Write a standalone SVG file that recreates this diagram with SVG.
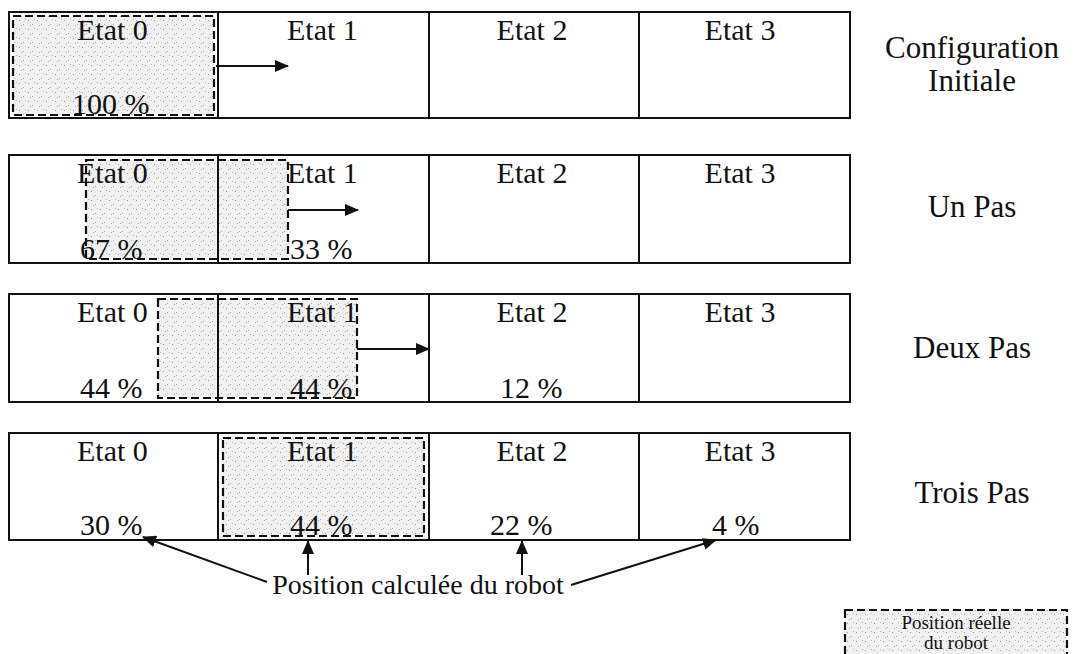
<svg xmlns="http://www.w3.org/2000/svg" width="1077" height="654" viewBox="0 0 1077 654">
<style>
.t{font-family:"Liberation Serif","Times New Roman",serif;font-size:30px;fill:#111}
.m{text-anchor:middle}
.lbl{font-family:"Liberation Serif","Times New Roman",serif;font-size:31px;fill:#111;text-anchor:middle}
.sm{font-family:"Liberation Serif","Times New Roman",serif;font-size:28px;fill:#111;text-anchor:middle}
.lg{font-family:"Liberation Serif","Times New Roman",serif;font-size:19px;fill:#111;text-anchor:middle}
.box{fill:none;stroke:#111;stroke-width:2}
.cell{stroke:#111;stroke-width:2}
.pos{fill:url(#dots);stroke:#111;stroke-width:2.2;stroke-dasharray:8 4}
.ar{stroke:#111;stroke-width:2;fill:none}
</style>
<defs>
<pattern id="dots" width="9" height="9" patternUnits="userSpaceOnUse">
<rect width="9" height="9" fill="#f1f1f1"/>
<rect x="1" y="2" width="1" height="1" fill="#999"/>
<rect x="5" y="6" width="1" height="1" fill="#aaa"/>
<rect x="7" y="1" width="1" height="1" fill="#bbb"/>
<rect x="3" y="7" width="1" height="1" fill="#aaa"/>
</pattern>
<marker id="ah" markerWidth="14" markerHeight="12" refX="13" refY="6" orient="auto" markerUnits="userSpaceOnUse">
<path d="M0,0 L14,6 L0,12 Z" fill="#111"/>
</marker>
</defs>

<g id="row1">
<rect id="pos1" class="pos" x="13" y="16" width="201" height="99"/>
<rect class="box" x="9" y="12" width="841" height="106"/>
<line class="cell" x1="218" y1="12" x2="218" y2="118"/>
<line class="cell" x1="429" y1="12" x2="429" y2="118"/>
<line class="cell" x1="639" y1="12" x2="639" y2="118"/>
<text class="t" x="77" y="40">Etat 0</text>
<text class="t" x="287" y="40">Etat 1</text>
<text class="t m" x="532" y="40">Etat 2</text>
<text class="t m" x="740" y="40">Etat 3</text>
<text class="t" x="72" y="114">100 %</text>
</g>

<g id="row2">
<rect id="pos2" class="pos" x="86" y="160" width="202" height="99"/>
<rect class="box" x="9" y="155" width="841" height="108"/>
<line class="cell" x1="218" y1="155" x2="218" y2="263"/>
<line class="cell" x1="429" y1="155" x2="429" y2="263"/>
<line class="cell" x1="639" y1="155" x2="639" y2="263"/>
<text class="t" x="77" y="183">Etat 0</text>
<text class="t" x="287" y="183">Etat 1</text>
<text class="t m" x="532" y="183">Etat 2</text>
<text class="t m" x="740" y="183">Etat 3</text>
<text class="t" x="80" y="259">67 %</text>
<text class="t" x="290" y="259">33 %</text>
</g>

<g id="row3">
<rect id="pos3" class="pos" x="158" y="299" width="199" height="99"/>
<rect class="box" x="9" y="294" width="841" height="108"/>
<line class="cell" x1="218" y1="294" x2="218" y2="402"/>
<line class="cell" x1="429" y1="294" x2="429" y2="402"/>
<line class="cell" x1="639" y1="294" x2="639" y2="402"/>
<text class="t" x="77" y="322">Etat 0</text>
<text class="t" x="287" y="322">Etat 1</text>
<text class="t m" x="532" y="322">Etat 2</text>
<text class="t m" x="740" y="322">Etat 3</text>
<text class="t" x="80" y="398">44 %</text>
<text class="t" x="290" y="398">44 %</text>
<text class="t" x="500" y="398">12 %</text>
</g>

<g id="row4">
<rect id="pos4" class="pos" x="223" y="438" width="201" height="98"/>
<rect class="box" x="9" y="433" width="841" height="107"/>
<line class="cell" x1="218" y1="433" x2="218" y2="540"/>
<line class="cell" x1="429" y1="433" x2="429" y2="540"/>
<line class="cell" x1="639" y1="433" x2="639" y2="540"/>
<text class="t" x="77" y="461">Etat 0</text>
<text class="t" x="287" y="461">Etat 1</text>
<text class="t m" x="532" y="461">Etat 2</text>
<text class="t m" x="740" y="461">Etat 3</text>
<text class="t" x="80" y="535">30 %</text>
<text class="t" x="290" y="535">44 %</text>
<text class="t" x="490" y="535">22 %</text>
<text class="t" x="712" y="535">4 %</text>
</g>

<g id="labels">
<text class="lbl" x="972" y="58">Configuration</text>
<text class="lbl" x="972" y="91">Initiale</text>
<text class="lbl" x="972" y="217">Un Pas</text>
<text class="lbl" x="972" y="358">Deux Pas</text>
<text class="lbl" x="972" y="503">Trois Pas</text>
</g>

<g id="calc">
<text class="sm" x="418" y="594">Position calculée du robot</text>
</g>

<g id="legend">
<rect class="pos" x="845" y="610" width="222" height="52"/>
<text class="lg" x="956" y="629">Position réelle</text>
<text class="lg" x="956" y="649">du robot</text>
</g>

<g id="connectors">
<line class="ar" x1="216" y1="66" x2="288" y2="66" marker-end="url(#ah)"/>
<line class="ar" x1="288" y1="210" x2="358" y2="210" marker-end="url(#ah)"/>
<line class="ar" x1="357" y1="349" x2="429" y2="349" marker-end="url(#ah)"/>
<line class="ar" x1="267" y1="582" x2="143" y2="537" marker-end="url(#ah)"/>
<line class="ar" x1="308" y1="575" x2="308" y2="541" marker-end="url(#ah)"/>
<line class="ar" x1="522" y1="575" x2="522" y2="541" marker-end="url(#ah)"/>
<line class="ar" x1="571" y1="585" x2="716" y2="540" marker-end="url(#ah)"/>
</g>
</svg>
